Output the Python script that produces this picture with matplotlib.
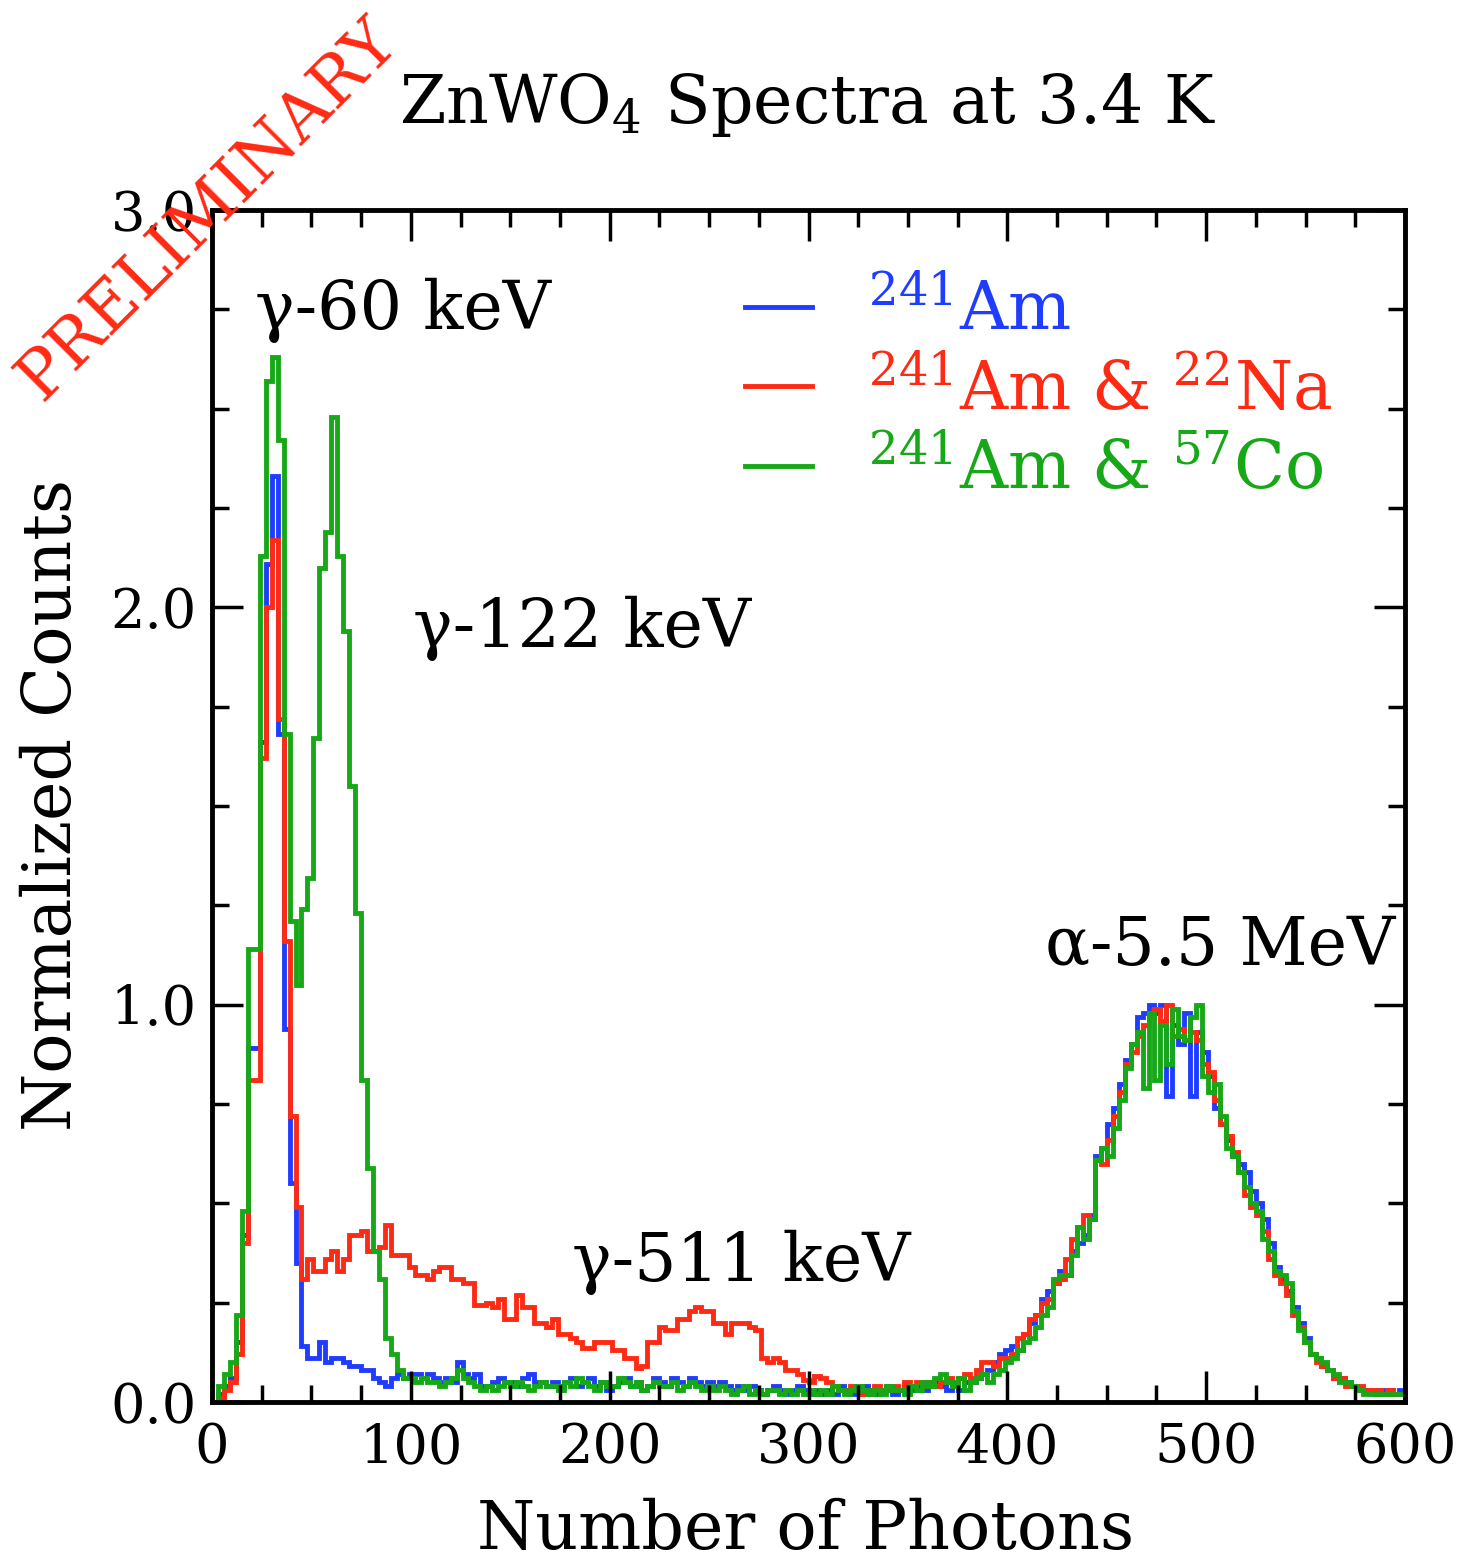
## IMPORTS
from matplotlib import pyplot as plt
from matplotlib.ticker import MultipleLocator, FormatStrFormatter
import numpy as np

## DATA
# Histogram range (photons) and normalized counts per 3-photon bin
PHOTON_RANGE = (0, 600)

am241 = [
    0.00, 0.02, 0.04, 0.06, 0.15, 0.42, 0.89, 0.89, 1.66, 2.11,
    2.33, 1.68, 0.94, 0.55, 0.35, 0.14, 0.11, 0.11, 0.15, 0.10,
    0.11, 0.11, 0.10, 0.09, 0.09, 0.08, 0.08, 0.06, 0.05, 0.04,
    0.06, 0.07, 0.06, 0.07, 0.07, 0.06, 0.07, 0.06, 0.05, 0.06,
    0.05, 0.10, 0.07, 0.06, 0.07, 0.04, 0.04, 0.05, 0.06, 0.05,
    0.05, 0.04, 0.06, 0.07, 0.05, 0.05, 0.04, 0.05, 0.04, 0.05,
    0.06, 0.04, 0.05, 0.06, 0.04, 0.05, 0.03, 0.04, 0.05, 0.06,
    0.04, 0.05, 0.03, 0.04, 0.06, 0.05, 0.04, 0.06, 0.05, 0.04,
    0.06, 0.05, 0.04, 0.05, 0.04, 0.05, 0.04, 0.03, 0.04, 0.03,
    0.04, 0.03, 0.02, 0.03, 0.04, 0.03, 0.02, 0.03, 0.04, 0.03,
    0.02, 0.03, 0.02, 0.03, 0.02, 0.04, 0.03, 0.02, 0.03, 0.04,
    0.03, 0.02, 0.03, 0.04, 0.02, 0.03, 0.04, 0.03, 0.04, 0.03,
    0.04, 0.05, 0.04, 0.03, 0.04, 0.03, 0.05, 0.05, 0.06, 0.07,
    0.08, 0.10, 0.12, 0.13, 0.14, 0.13, 0.17, 0.20, 0.22, 0.26,
    0.28, 0.30, 0.33, 0.32, 0.38, 0.40, 0.42, 0.47, 0.62, 0.64,
    0.70, 0.74, 0.80, 0.86, 0.90, 0.97, 0.98, 1.00, 0.98, 1.00,
    0.77, 0.95, 0.90, 0.98, 0.77, 0.93, 0.88, 0.82, 0.74, 0.70,
    0.66, 0.62, 0.60, 0.58, 0.53, 0.50, 0.46, 0.40, 0.34, 0.31,
    0.28, 0.24, 0.20, 0.16, 0.12, 0.11, 0.09, 0.08, 0.06, 0.06,
    0.05, 0.04, 0.03, 0.03, 0.03, 0.02, 0.03, 0.03, 0.02, 0.03,
]

am241_na22 = [
    0.00, 0.01, 0.03, 0.05, 0.12, 0.40, 0.81, 0.81, 1.62, 2.00,
    2.17, 1.72, 1.16, 0.72, 0.49, 0.31, 0.36, 0.33, 0.33, 0.36,
    0.38, 0.33, 0.36, 0.42, 0.42, 0.43, 0.38, 0.38, 0.39, 0.445,
    0.37, 0.37, 0.37, 0.34, 0.32, 0.32, 0.31, 0.33, 0.34, 0.34,
    0.31, 0.31, 0.30, 0.30, 0.245, 0.245, 0.25, 0.24, 0.26, 0.21,
    0.21, 0.27, 0.24, 0.24, 0.20, 0.20, 0.19, 0.21, 0.17, 0.17,
    0.16, 0.15, 0.135, 0.135, 0.15, 0.15, 0.15, 0.13, 0.13, 0.11,
    0.11, 0.085, 0.09, 0.15, 0.15, 0.19, 0.18, 0.18, 0.21, 0.21,
    0.23, 0.24, 0.23, 0.23, 0.20, 0.20, 0.17, 0.20, 0.20, 0.20,
    0.19, 0.18, 0.11, 0.10, 0.11, 0.10, 0.08, 0.08, 0.07, 0.055,
    0.05, 0.065, 0.06, 0.05, 0.04, 0.03, 0.03, 0.04, 0.03, 0.02,
    0.03, 0.04, 0.03, 0.03, 0.04, 0.03, 0.05, 0.04, 0.05, 0.04,
    0.05, 0.04, 0.05, 0.06, 0.05, 0.06, 0.07, 0.06, 0.08, 0.10,
    0.10, 0.09, 0.11, 0.11, 0.12, 0.16, 0.17, 0.21, 0.22, 0.25,
    0.26, 0.30, 0.31, 0.36, 0.41, 0.44, 0.47, 0.46, 0.61, 0.60,
    0.66, 0.72, 0.78, 0.85, 0.88, 0.92, 0.95, 0.97, 0.99, 0.96,
    1.00, 0.92, 0.94, 0.91, 0.93, 0.91, 0.85, 0.83, 0.76, 0.70,
    0.67, 0.63, 0.58, 0.52, 0.49, 0.47, 0.43, 0.36, 0.32, 0.30,
    0.27, 0.22, 0.19, 0.15, 0.12, 0.10, 0.09, 0.08, 0.06, 0.06,
    0.04, 0.04, 0.04, 0.03, 0.03, 0.03, 0.02, 0.03, 0.02, 0.02,
]

am241_co57 = [
    0.00, 0.04, 0.07, 0.10, 0.22, 0.48, 1.14, 1.14, 2.13, 2.57,
    2.63, 2.42, 1.68, 1.21, 1.05, 1.24, 1.32, 1.67, 2.10, 2.19,
    2.48, 2.13, 1.94, 1.55, 1.23, 0.81, 0.59, 0.38, 0.31, 0.16,
    0.12, 0.08, 0.06, 0.06, 0.05, 0.06, 0.05, 0.05, 0.04, 0.05,
    0.06, 0.08, 0.06, 0.05, 0.04, 0.03, 0.04, 0.03, 0.04, 0.05,
    0.04, 0.05, 0.04, 0.03, 0.04, 0.05, 0.04, 0.04, 0.03, 0.05,
    0.04, 0.06, 0.05, 0.04, 0.03, 0.05, 0.04, 0.04, 0.06, 0.05,
    0.04, 0.05, 0.03, 0.04, 0.05, 0.04, 0.04, 0.05, 0.03, 0.04,
    0.05, 0.04, 0.03, 0.04, 0.03, 0.04, 0.03, 0.02, 0.03, 0.04,
    0.02, 0.03, 0.02, 0.03, 0.03, 0.02, 0.03, 0.02, 0.03, 0.02,
    0.03, 0.02, 0.03, 0.02, 0.04, 0.03, 0.02, 0.03, 0.04, 0.03,
    0.02, 0.03, 0.02, 0.04, 0.03, 0.03, 0.02, 0.04, 0.03, 0.05,
    0.04, 0.06, 0.07, 0.05, 0.04, 0.06, 0.03, 0.05, 0.06, 0.07,
    0.05, 0.07, 0.08, 0.10, 0.11, 0.13, 0.15, 0.16, 0.19, 0.22,
    0.24, 0.31, 0.32, 0.32, 0.37, 0.44, 0.41, 0.46, 0.61, 0.64,
    0.62, 0.69, 0.76, 0.84, 0.90, 0.93, 0.79, 0.98, 0.81, 0.95,
    0.85, 0.99, 0.92, 0.91, 0.97, 1.00, 0.82, 0.78, 0.80, 0.72,
    0.64, 0.62, 0.58, 0.54, 0.50, 0.48, 0.41, 0.38, 0.33, 0.32,
    0.30, 0.23, 0.18, 0.15, 0.12, 0.11, 0.10, 0.08, 0.07, 0.05,
    0.05, 0.04, 0.03, 0.02, 0.02, 0.02, 0.02, 0.02, 0.02, 0.02,
]

labels = [r"$^{241}$Am", r"$^{241}$Am & $^{22}$Na", r"$^{241}$Am & $^{57}$Co"]

# Peak annotations: (text, photons, normalized counts)
peaks = [
    (u"\u03b3-60 keV", 21.5, 2.70),
    (u"\u03b3-122 keV", 101, 1.90),
    (u"\u03b3-511 keV", 181, 0.305),
    (u"\u03b1-5.5 MeV", 419, 1.10),
]

## STYLE
COLORS = ["#1f3cff", "#ff2a14", "#16a816"]
BIG = 48
TICK = 39


def main():
    plt.rcParams["font.family"] = "DejaVu Serif"
    plt.rcParams["mathtext.fontset"] = "dejavuserif"

    fig = plt.figure(figsize=(14.58, 15.66), dpi=100)
    ax = fig.add_axes([212 / 1458, 1 - 1402 / 1566, 1193 / 1458, 1192 / 1566])

    # Step histograms
    for vals, col, lab in zip([am241, am241_na22, am241_co57], COLORS, labels):
        edges = np.linspace(PHOTON_RANGE[0], PHOTON_RANGE[1], len(vals) + 1)
        ax.stairs(vals, edges, color=col, linewidth=3.5, label=lab)

    ax.set_xlim(*PHOTON_RANGE)
    ax.set_ylim(0, 3.0)

    # Ticks
    ax.xaxis.set_major_locator(MultipleLocator(100))
    ax.xaxis.set_minor_locator(MultipleLocator(25))
    ax.yaxis.set_major_locator(MultipleLocator(1.0))
    ax.yaxis.set_minor_locator(MultipleLocator(0.25))
    ax.yaxis.set_major_formatter(FormatStrFormatter("%.1f"))
    ax.tick_params(which="both", direction="in", top=True, right=True,
                   labelsize=TICK, width=2.5)
    ax.tick_params(which="major", length=22)
    ax.tick_params(which="minor", length=12)
    ax.tick_params(axis="x", pad=15)
    ax.tick_params(axis="y", pad=11)
    for s in ax.spines.values():
        s.set_linewidth(3.5)

    # Annotations
    for txt, x, y in peaks:
        ax.text(x, y, txt, fontsize=BIG, ha="left", va="baseline")

    # Legend
    leg = ax.legend(loc="upper left", bbox_to_anchor=(533 / 1193, 0.942),
                    frameon=False, fontsize=BIG, handlelength=1.0,
                    handletextpad=0.85, labelspacing=0.21, borderpad=0,
                    borderaxespad=0)
    for t, col in zip(leg.get_texts(), COLORS):
        t.set_color(col)

    # Titles and labels
    fig.text(808 / 1458, 1 - 123 / 1566, r"ZnWO$_4$ Spectra at 3.4 K",
             fontsize=BIG, ha="center", va="baseline")
    fig.text(806 / 1458, 1 - 1549 / 1566, "Number of Photons",
             fontsize=BIG, ha="center", va="baseline")
    fig.text(52 / 1458, 1 - 805 / 1566, "Normalized Counts",
             fontsize=BIG, ha="center", va="center", rotation=90)

    fig.text(208 / 1458, 1 - 210 / 1566, "PRELIMINARY", color=COLORS[1],
             fontsize=48, ha="center", va="center", rotation=45,
             rotation_mode="anchor")

    fig.savefig("out.png", dpi=100)


if __name__ == "__main__":
    main()
